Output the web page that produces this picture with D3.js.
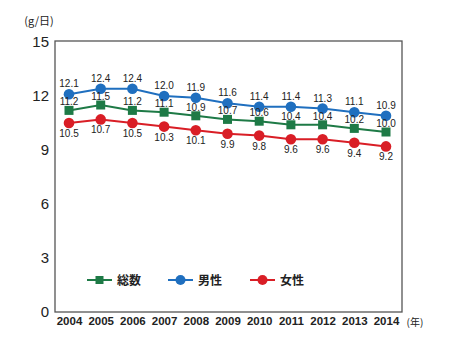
<!DOCTYPE html>
<html><head><meta charset="utf-8">
<script src="https://cdn.jsdelivr.net/npm/d3@7"></script>
<style>body{margin:0;background:#fff}svg{display:block;font-family:"Noto Sans CJK JP","Noto Sans",sans-serif}</style>
</head><body>
<svg id="c" width="450" height="347"></svg>
<script>
const years = [2004,2005,2006,2007,2008,2009,2010,2011,2012,2013,2014];
const total = [11.2,11.5,11.2,11.1,10.9,10.7,10.6,10.4,10.4,10.2,10.0];
const male = [12.1,12.4,12.4,12.0,11.9,11.6,11.4,11.4,11.3,11.1,10.9];
const female = [10.5,10.7,10.5,10.3,10.1,9.9,9.8,9.6,9.6,9.4,9.2];
const yTicks = [0,3,6,9,12,15];
const seriesNames = ["総数","男性","女性"];
const colors = ["#1e7a46","#1f6fbf","#d91e26"];

const svg = d3.select("#c");
const L=55,R=402,T=42,B=312;
const x = d3.scaleLinear().domain([2004,2014]).range([69,386]);
const y = d3.scaleLinear().domain([0,15]).range([B,T]);

svg.append("rect").attr("x",L).attr("y",T-1).attr("width",R-L).attr("height",B-T+1)
  .attr("fill","none").attr("stroke","#555").attr("stroke-width",1.3);

const yAx = svg.append("g").attr("transform",`translate(${L},0)`)
  .call(d3.axisLeft(y).tickValues(yTicks).tickSize(0).tickPadding(6));
yAx.select(".domain").remove();
yAx.selectAll("text").attr("font-size",15).attr("fill","#222").attr("font-family","Liberation Sans, Arial, sans-serif");

const xAx = svg.append("g").attr("transform",`translate(0,${B})`)
  .call(d3.axisBottom(x).tickValues(years).tickFormat(d3.format("d")).tickSize(0).tickPadding(5));
xAx.select(".domain").remove();
xAx.selectAll("text").attr("font-size",11.5).attr("font-weight","bold").attr("fill","#222").attr("font-family","Liberation Sans, Arial, sans-serif");

svg.append("text").attr("x",415).attr("y",326).attr("font-size",10).attr("fill","#222").attr("text-anchor","middle").text("(年)");
svg.append("text").attr("x",39).attr("y",25).attr("font-size",11).attr("fill","#222").attr("text-anchor","middle").text("(g/日)");

const series = [
  {name:seriesNames[0], vals:total, color:colors[0], shape:"square", dy:-5},
  {name:seriesNames[1], vals:male, color:colors[1], shape:"circle", dy:-7},
  {name:seriesNames[2], vals:female, color:colors[2], shape:"circle", dy:14}
];
const line = d3.line().x((d,i)=>x(years[i])).y(d=>y(d));
const fmt = d3.format(".1f");
series.forEach(s=>{
  svg.append("path").datum(s.vals).attr("d",line).attr("fill","none").attr("stroke",s.color).attr("stroke-width",2);
});
series.forEach(s=>{
  const g = svg.append("g");
  if(s.shape==="circle"){
    g.selectAll("circle").data(s.vals).join("circle")
      .attr("cx",(d,i)=>x(years[i])).attr("cy",d=>y(d)).attr("r",5.3).attr("fill",s.color);
  } else {
    g.selectAll("rect").data(s.vals).join("rect")
      .attr("x",(d,i)=>x(years[i])-4.5).attr("y",d=>y(d)-4.5).attr("width",9).attr("height",9).attr("fill",s.color);
  }
});
series.forEach(s=>{
  svg.append("g").selectAll("text").data(s.vals).join("text")
    .attr("x",(d,i)=>x(years[i])).attr("y",d=>y(d)+s.dy)
    .attr("text-anchor","middle").attr("font-size",10).attr("fill","#222")
    .attr("font-family","Liberation Sans, Arial, sans-serif").text(d=>fmt(d));
});

// legend
const lg = [87,168,250];
series.forEach((s,i)=>{
  const lx = lg[i], ly = 280;
  svg.append("line").attr("x1",lx).attr("x2",lx+25).attr("y1",ly).attr("y2",ly).attr("stroke",s.color).attr("stroke-width",2);
  if(s.shape==="circle") svg.append("circle").attr("cx",lx+12.5).attr("cy",ly).attr("r",5).attr("fill",s.color);
  else svg.append("rect").attr("x",lx+8.5).attr("y",ly-4).attr("width",8).attr("height",8).attr("fill",s.color);
  svg.append("text").attr("x",lx+30).attr("y",ly+4.5).attr("font-size",12).attr("font-weight","bold").attr("fill","#222").text(s.name);
});
</script>
</body></html>
